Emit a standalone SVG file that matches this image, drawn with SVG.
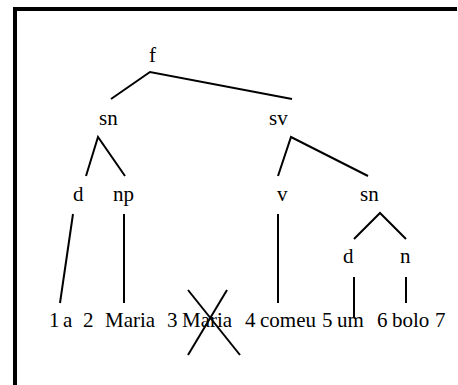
<svg xmlns="http://www.w3.org/2000/svg" width="458" height="385" viewBox="0 0 458 385">
<style>
text{font-family:"Liberation Serif","Times New Roman",serif;font-size:21px;fill:#000}
.e{stroke:#000;stroke-width:2;fill:none;stroke-linecap:butt}
</style>
<rect width="458" height="385" fill="#fff"/>
<g id="frame">
<rect x="13" y="7" width="444" height="4" fill="#000"/>
<rect x="13" y="7" width="4" height="378" fill="#000"/>
</g>
<g id="connectors" class="e">
<polyline points="111,99 150,72 292,99"/>
<polyline points="86,176 98,137 125,176"/>
<polyline points="278,176 291,137 368,176"/>
<line x1="73" y1="214" x2="60" y2="303"/>
<line x1="124" y1="214" x2="124" y2="303"/>
<line x1="278" y1="214" x2="278" y2="303"/>
<polyline points="354,239 380,213 406,239"/>
<line x1="354" y1="277" x2="354" y2="317"/>
<line x1="406" y1="277" x2="406" y2="303"/>
</g>
<g id="node-f"><text x="149" y="62">f</text></g>
<g id="node-sn1"><text x="99" y="125">sn</text></g>
<g id="node-sv"><text x="269" y="125">sv</text></g>
<g id="node-d1"><text x="73" y="201">d</text></g>
<g id="node-np"><text x="113" y="201">np</text></g>
<g id="node-v"><text x="277" y="201">v</text></g>
<g id="node-sn2"><text x="360" y="201">sn</text></g>
<g id="node-d2"><text x="343" y="263">d</text></g>
<g id="node-n"><text x="400" y="263">n</text></g>
<g id="words">
<text x="49" y="327">1</text>
<text x="63" y="327">a</text>
<text x="83" y="327">2</text>
<text x="105" y="327">Maria</text>
<text x="167" y="327">3</text>
<text x="182" y="327">Maria</text>
<text x="245" y="327">4</text>
<text x="260" y="327">comeu</text>
<text x="322" y="327">5</text>
<text x="337" y="327">um</text>
<text x="377" y="327">6</text>
<text x="392" y="327">bolo</text>
<text x="435" y="327">7</text>
</g>
<g id="cross" class="e">
<line x1="188" y1="290" x2="240" y2="355"/>
<line x1="227" y1="290" x2="188" y2="355"/>
</g>
</svg>
